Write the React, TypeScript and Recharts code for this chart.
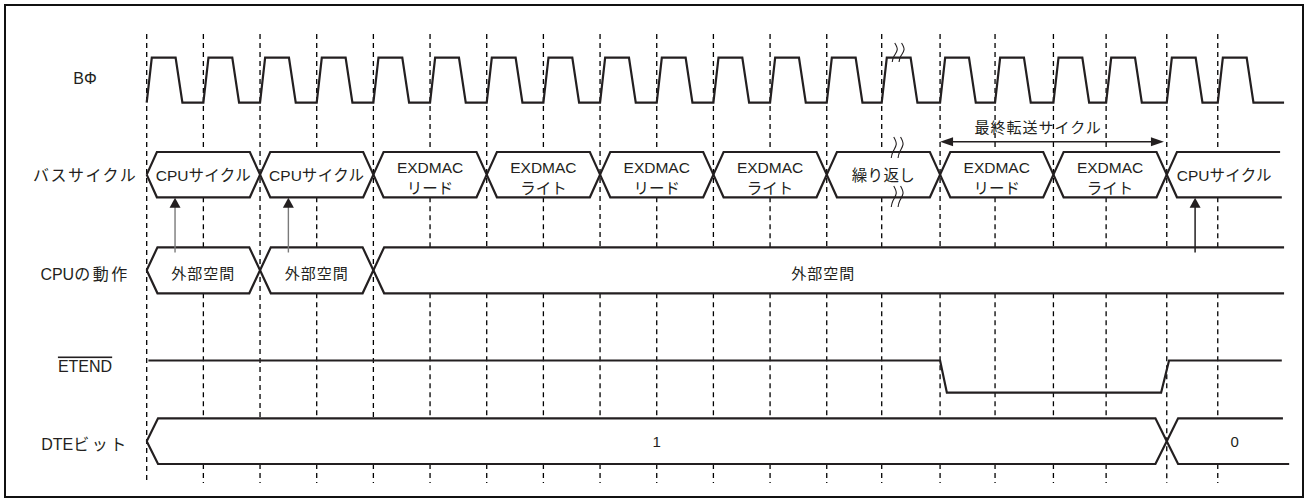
import React from 'react';
import { ComposedChart, Line, Scatter, XAxis, YAxis } from 'recharts';

// ================= DATA (time in clock cycles) =================
const clockEdges = [0, 1, 2, 3, 4, 5, 6, 7, 8, 9, 10, 11, 12, 12.97, 14, 14.97, 16, 16.93, 18, 18.9];
const clockEnd = 20.07;
const breakAt = [13.2, 13.32];

const rowNames = ['BΦ', 'バスサイクル', 'CPUの動作', 'ETEND', 'DTEビット'];

const busBounds = [0, 2, 4, 6, 8, 10, 12, 14, 16, 18];
const busEnd = [20.0, 20.03];
const busLabels = [
  'CPUサイクル', 'CPUサイクル', 'EXDMAC\nリード', 'EXDMAC\nライト', 'EXDMAC\nリード',
  'EXDMAC\nライト', '繰り返し', 'EXDMAC\nリード', 'EXDMAC\nライト', 'CPUサイクル',
];

const cpuBounds = [0, 2, 4];
const cpuEnd = [20.07, 20.07];
const cpuLabels = ['外部空間', '外部空間', '外部空間'];
const cpuLabelAt = [1, 3, 11.94];

const cpuToBusArrows = [0.5, 2.5, 18.5];

const etendTimes = [0.03, 14.0, 14.12, 17.9, 18.04, 20.03];
const etendLevels = [1, 1, 0, 0, 1, 1];

const dteBounds = [0, 18];
const dteEnd = [20.05, 20.16];
const dteLabels = ['1', '0'];
const dteLabelAt = [9, 19.2];

const finalTransferFrom = 14.0;
const finalTransferTo = 17.95;
const finalTransferLabel = '最終転送サイクル';
const finalTransferLabelAt = 15.73;

// ================= LAYOUT / STYLE =================
const W = 1306;
const H = 504;
const X0_PX = 146.7;
const UNIT_PX = 56.67;
const X_DOMAIN: [number, number] = [-X0_PX / UNIT_PX, (W - X0_PX) / UNIT_PX];
const Y_DOMAIN: [number, number] = [0, H];
const px = (d: number) => d / UNIT_PX;

const lane = {
  clock: { hi: 57.7, lo: 102.7 },
  bus: { top: 152, bot: 197.3 },
  cpu: { top: 247.3, bot: 293.3 },
  etend: { hi: 360.5, lo: 392.7 },
  dte: { top: 418.3, bot: 464 },
};
const gridTop = 34;
const gridBot = 483;
const rowLabelT = -1.088;
const rowLabelBaseline = [83.5, 181, 279.5, 371.5, 449.5];
const rowLabelSpacing = [0, 1.5, 2.5, 0, 2.5];
const arrowTailY = 252.5;
const finalArrowY = 141.7;
const finalLabelBaseline = 132.5;

const RISE = 0.09;
const HIGH_END = 0.51;
const FALL_END = 0.63;

const INK = '#231f20';
const SIG_W = 2.2;
const FONT = "'Liberation Sans', Arial, 'Noto Sans CJK JP', sans-serif";

type P = { t: number; y: number };

// ================= BUILDERS =================
function clockPoints(): P[] {
  const pts: P[] = [];
  const { hi, lo } = lane.clock;
  clockEdges.forEach((e) => {
    pts.push({ t: e, y: lo }, { t: e + RISE, y: hi }, { t: e + HIGH_END, y: hi }, { t: e + FALL_END, y: lo });
  });
  pts.push({ t: clockEnd, y: lo });
  return pts;
}

function segmentShapes(bounds: number[], end: number[], top: number, bot: number, h: number): P[][] {
  const mid = (top + bot) / 2;
  return bounds.map((ts, i) => {
    if (i + 1 < bounds.length) {
      const te = bounds[i + 1];
      return [
        { t: ts, y: mid }, { t: ts + h, y: top }, { t: te - h, y: top }, { t: te, y: mid },
        { t: te - h, y: bot }, { t: ts + h, y: bot }, { t: ts, y: mid },
      ];
    }
    return [
      { t: end[0], y: top }, { t: ts + h, y: top }, { t: ts, y: mid }, { t: ts + h, y: bot }, { t: end[1], y: bot },
    ];
  });
}

function gridPieces(t: number): [number, number][] {
  const rows = [
    { b: busBounds, e: busEnd[0], ...lane.bus },
    { b: cpuBounds, e: cpuEnd[0], ...lane.cpu },
    { b: dteBounds, e: dteEnd[0], ...lane.dte },
  ];
  const hidden: [number, number][] = [];
  rows.forEach((r) => {
    const edges = [...r.b, r.e];
    for (let i = 0; i + 1 < edges.length; i++) {
      if (t > edges[i] + 0.05 && t < edges[i + 1] - 0.05) hidden.push([r.top, r.bot]);
    }
  });
  hidden.sort((a, b) => a[0] - b[0]);
  const out: [number, number][] = [];
  let s = gridTop;
  hidden.forEach(([a, b]) => {
    if (a > s) out.push([s, a]);
    s = b;
  });
  out.push([s, gridBot]);
  return out;
}

function squiggle(t: number, y0: number, len: number): P[] {
  return [
    { t, y: y0 },
    { t: t + px(2.5), y: y0 + len * 0.35 },
    { t: t - px(0.8), y: y0 + len * 0.7 },
    { t: t - px(2.5), y: y0 + len },
  ];
}

function mkLine(key: string, pts: P[], stroke = INK, width = SIG_W, dash?: string, type: any = 'linear') {
  return (
    <Line
      key={key}
      data={pts}
      dataKey="y"
      type={type}
      stroke={stroke}
      strokeWidth={width}
      strokeDasharray={dash}
      strokeLinejoin="miter"
      dot={false}
      activeDot={false}
      isAnimationActive={false}
      legendType="none"
    />
  );
}

// text items
type TItem = { t: number; y: number; text: string; size: number; ls: number; over?: boolean; lh?: number };
const textItems: TItem[] = [];
rowNames.forEach((n, i) =>
  textItems.push({ t: rowLabelT, y: rowLabelBaseline[i], text: n, size: 16, ls: rowLabelSpacing[i], over: i === 3 }),
);
const busMid = (lane.bus.top + lane.bus.bot) / 2;
busLabels.forEach((lab, i) => {
  const ts = busBounds[i];
  const te = i + 1 < busBounds.length ? busBounds[i + 1] : busEnd[1];
  const two = lab.includes('\n');
  textItems.push({ t: (ts + te) / 2, y: busMid + (two ? -1.4 : 6.8), text: lab, size: 15.5, ls: two ? 0 : 0.3, lh: 20.5 });
});
const cpuMid = (lane.cpu.top + lane.cpu.bot) / 2;
cpuLabels.forEach((lab, i) => textItems.push({ t: cpuLabelAt[i], y: cpuMid + 8.3, text: lab, size: 15, ls: 1 }));
const dteMid = (lane.dte.top + lane.dte.bot) / 2;
dteLabels.forEach((lab, i) => textItems.push({ t: dteLabelAt[i], y: dteMid + 5.5, text: lab, size: 15, ls: 0 }));
textItems.push({ t: finalTransferLabelAt, y: finalLabelBaseline, text: finalTransferLabel, size: 15, ls: 1 });

// split a line into ASCII / non-ASCII runs so spacing applies to the CJK part only
function runs(s: string): { s: string; cjk: boolean }[] {
  const out: { s: string; cjk: boolean }[] = [];
  for (const ch of s) {
    const cjk = ch.charCodeAt(0) > 0x2000;
    if (out.length && out[out.length - 1].cjk === cjk) out[out.length - 1].s += ch;
    else out.push({ s: ch, cjk });
  }
  return out;
}

const renderText = (props: any) => {
  const p: TItem = props.payload ?? props;
  const { cx, cy } = props;
  const lines = p.text.split('\n');
  return (
    <text
      x={cx}
      y={cy}
      textAnchor="middle"
      fontFamily={FONT}
      fontSize={p.size}
      fill={INK}
      style={p.over ? { textDecoration: 'overline' } : undefined}
    >
      {lines.map((l, i) => (
        <tspan key={i} x={cx} dy={i === 0 ? 0 : p.lh}>
          {runs(l).map((r, j) => (
            <tspan key={j} letterSpacing={r.cjk ? p.ls : 0}>
              {r.s}
            </tspan>
          ))}
        </tspan>
      ))}
    </text>
  );
};

// arrowheads
type AItem = { t: number; y: number; dir: 'up' | 'left' | 'right' };
const heads: AItem[] = [
  ...cpuToBusArrows.map((t) => ({ t, y: lane.bus.bot + 0.5, dir: 'up' as const })),
  { t: finalTransferFrom, y: finalArrowY, dir: 'left' },
  { t: finalTransferTo, y: finalArrowY, dir: 'right' },
];
const renderHead = (props: any) => {
  const p: AItem = props.payload ?? props;
  const { cx, cy } = props;
  let pts = '';
  if (p.dir === 'up') pts = `${cx},${cy} ${cx - 5.5},${cy + 10} ${cx + 5.5},${cy + 10}`;
  if (p.dir === 'left') pts = `${cx},${cy} ${cx + 13},${cy - 4.5} ${cx + 13},${cy + 4.5}`;
  if (p.dir === 'right') pts = `${cx},${cy} ${cx - 13},${cy - 4.5} ${cx - 13},${cy + 4.5}`;
  return <polygon points={pts} fill={INK} />;
};

export default function App() {
  const lines: React.ReactNode[] = [];

  // dashed clock-edge gridlines
  clockEdges.forEach((t, i) =>
    gridPieces(t).forEach(([a, b], j) =>
      lines.push(mkLine(`g${i}_${j}`, [{ t, y: a }, { t, y: b }], '#000', 1.3, '5 4')),
    ),
  );

  // clock
  lines.push(mkLine('clock', clockPoints()));

  // bus cycles
  segmentShapes(busBounds, busEnd, lane.bus.top, lane.bus.bot, 0.18).forEach((pts, i) =>
    lines.push(mkLine(`bus${i}`, pts)),
  );
  // cpu
  segmentShapes(cpuBounds, cpuEnd, lane.cpu.top, lane.cpu.bot, 0.19).forEach((pts, i) =>
    lines.push(mkLine(`cpu${i}`, pts)),
  );
  // dte
  segmentShapes(dteBounds, dteEnd, lane.dte.top, lane.dte.bot, 0.2).forEach((pts, i) =>
    lines.push(mkLine(`dte${i}`, pts)),
  );

  // ETEND
  lines.push(
    mkLine(
      'etend',
      etendTimes.map((t, i) => ({ t, y: etendLevels[i] ? lane.etend.hi : lane.etend.lo })),
    ),
  );

  // cpu -> bus arrows
  cpuToBusArrows.forEach((t, i) =>
    lines.push(
      mkLine(`arr${i}`, [{ t, y: arrowTailY }, { t, y: lane.bus.bot + 8 }], i < 2 ? '#7a7a7a' : INK, i < 2 ? 1.4 : 1.5),
    ),
  );

  // final transfer double arrow
  lines.push(
    mkLine('final', [{ t: finalTransferFrom + px(8), y: finalArrowY }, { t: finalTransferTo - px(8), y: finalArrowY }], INK, 1.4),
  );

  // break marks
  breakAt.forEach((t, i) => {
    lines.push(mkLine(`bk_c${i}`, squiggle(t, 43, 19), INK, 1.1, undefined, 'natural'));
    lines.push(mkLine(`bk_t${i}`, squiggle(t - px(1), 137, 21), INK, 1.1, undefined, 'natural'));
    lines.push(mkLine(`bk_b${i}`, squiggle(t - px(1), 186, 21), INK, 1.1, undefined, 'natural'));
  });

  return (
    <div style={{ position: 'absolute', left: 0, top: 0, width: W, height: H, background: '#fff' }}>
      <div
        style={{
          position: 'absolute',
          left: 4,
          top: 4,
          width: 1296,
          height: 490,
          border: '2px solid #111',
        }}
      />
      <div style={{ position: 'absolute', left: 0, top: 0 }}>
        <ComposedChart width={W} height={H} margin={{ top: 0, right: 0, bottom: 0, left: 0 }}>
          <XAxis type="number" dataKey="t" domain={X_DOMAIN} hide allowDataOverflow />
          <YAxis type="number" dataKey="y" domain={Y_DOMAIN} reversed hide allowDataOverflow />
          {lines}
          <Scatter data={heads} shape={renderHead} isAnimationActive={false} legendType="none" />
          <Scatter data={textItems} shape={renderText} isAnimationActive={false} legendType="none" />
        </ComposedChart>
      </div>
    </div>
  );
}
